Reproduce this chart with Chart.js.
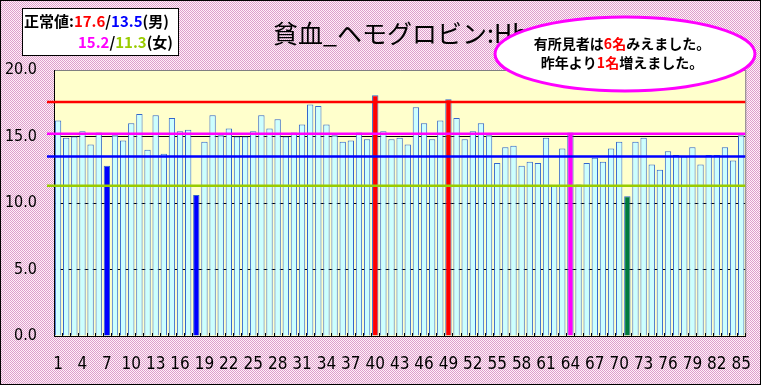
<!DOCTYPE html>
<html>
<head>
<meta charset="utf-8">
<script src="https://cdn.jsdelivr.net/npm/chart.js@4.4.1/dist/chart.umd.min.js"></script>
<style>
html,body{margin:0;padding:0;background:#fff;}
canvas{display:block;}
</style>
</head>
<body>
<canvas id="c" width="761" height="385"></canvas>
<script>
// ---------- DATA ----------
const categories = [
  '1','2','3','4','5','6','7','8','9','10','11','12','13','14','15','16','17','18','19','20',
  '21','22','23','24','25','26','27','28','29','30','31','32','33','34','35','36','37','38','39','40',
  '41','42','43','44','45','46','47','48','49','50','51','52','53','54','55','56','57','58','59','60',
  '61','62','63','64','65','66','67','68','69','70','71','72','73','74','75','76','77','78','79','80',
  '81','82','83','84','85'
];
const hemoglobin = [
  16.2, 14.9, 15.0, 15.4, 14.4, 15.3, 12.8, 15.1, 14.7, 16.0,
  16.7, 14.0, 16.6, 13.7, 16.4, 15.4, 15.5, 10.6, 14.6, 16.6,
  15.1, 15.6, 15.0, 15.0, 15.4, 16.6, 15.6, 16.3, 15.0, 15.3,
  15.9, 17.4, 17.3, 15.9, 15.1, 14.6, 14.7, 15.3, 14.8, 18.1,
  15.4, 14.8, 14.9, 14.4, 17.2, 16.0, 14.8, 16.2, 17.8, 16.4,
  14.8, 15.4, 16.0, 15.1, 13.0, 14.2, 14.3, 12.8, 13.1, 13.0,
  14.9, 11.3, 14.1, 15.3, 11.4, 13.0, 13.4, 13.1, 14.1, 14.6,
  10.5, 14.6, 14.9, 12.9, 12.5, 13.9, 13.6, 13.5, 14.2, 12.9,
  13.6, 13.6, 14.2, 13.2, 15.1
];
// flagged persons (category label) and which limit they broke
const flaggedIds   = ['7', '18', '40', '49', '64', '71'];
const flaggedKinds = ['maleLow', 'maleLow', 'maleHigh', 'maleHigh', 'femaleHigh', 'femaleLow'];
// reference (normal range) values
const refKinds  = ['maleHigh', 'femaleHigh', 'maleLow', 'femaleLow'];
const refValues = [17.6, 15.2, 13.5, 11.3];
const yTickValues = [0, 5, 10, 15, 20];
const xLabelStep = 3;
const titleText = '貧血_ヘモグロビン:Hb';
const noteLine1 = [['有所見者は','black'],['6名','red'],['みえました。','black']];
const noteLine2 = [['昨年より','black'],['1名','red'],['増えました。','black']];
const legendLine1 = [['正常値:','black'],['17.6','maleHigh'],['/','black'],['13.5','maleLow'],['(男)','black']];
const legendLine2 = [['15.2','femaleHigh'],['/','black'],['11.3','femaleLow'],['(女)','black']];

// ---------- STYLES ----------
const kindColor = {
  maleHigh: '#FF0000', maleLow: '#0000FF', femaleHigh: '#FF00FF', femaleLow: '#99CC00',
  black: '#000000', red: '#FF0000'
};
const barFillFlag = { maleHigh:'#FF0000', maleLow:'#0000FF', femaleHigh:'#FF00FF', femaleLow:'#007A3D' };
const barFill = '#CCFFFF';
const barBorder = '#3366CC';
const NUMFONT = "'Liberation Sans Narrow','DejaVu Sans Condensed','Liberation Sans',sans-serif";
const JPFONT = "'Noto Sans CJK JP','Noto Sans',sans-serif";

const fills = categories.map(c => {
  const k = flaggedIds.indexOf(c);
  return k >= 0 ? barFillFlag[flaggedKinds[k]] : barFill;
});

function drawSegments(ctx, segs, x, y, font, align) {
  ctx.font = font;
  let total = 0;
  segs.forEach(s => total += ctx.measureText(s[0]).width);
  let cx = align === 'center' ? x - total / 2 : x;
  ctx.textAlign = 'left';
  ctx.textBaseline = 'middle';
  segs.forEach(s => {
    ctx.fillStyle = kindColor[s[1]];
    ctx.fillText(s[0], cx, y);
    cx += ctx.measureText(s[0]).width;
  });
}

const decor = {
  id: 'decor',
  beforeDraw(chart) {
    const {ctx, chartArea: a, width, height} = chart;
    const pc = document.createElement('canvas');
    pc.width = 2; pc.height = 2;
    const p = pc.getContext('2d');
    p.fillStyle = '#FFF0F8'; p.fillRect(0, 0, 2, 2);
    p.fillStyle = '#DDA0CC'; p.fillRect(0, 0, 1, 1); p.fillRect(1, 1, 1, 1);
    ctx.save();
    ctx.fillStyle = ctx.createPattern(pc, 'repeat');
    ctx.fillRect(0, 0, width, height);
    ctx.fillStyle = '#FFFFCC';
    ctx.fillRect(a.left, a.top, a.right - a.left, a.bottom - a.top);
    ctx.restore();
  },
  afterDatasetsDraw(chart) {
    const {ctx, chartArea: a, scales: {x, y}} = chart;
    ctx.save();
    // right frame
    ctx.strokeStyle = '#808080';
    ctx.lineWidth = 1;
    ctx.beginPath();
    ctx.moveTo(a.right + 0.5, a.top); ctx.lineTo(a.right + 0.5, a.bottom);
    ctx.stroke();
    // small tick marks at category boundaries
    ctx.strokeStyle = '#000';
    ctx.beginPath();
    for (let i = 0; i <= categories.length; i++) {
      const px = Math.round(x.getPixelForValue(i - 0.5)) + 0.5;
      ctx.moveTo(px, a.bottom); ctx.lineTo(px, a.bottom - 3);
    }
    ctx.stroke();
    // reference lines
    ctx.lineWidth = 2.5;
    refValues.forEach((v, i) => {
      const py = y.getPixelForValue(v);
      ctx.strokeStyle = kindColor[refKinds[i]];
      ctx.beginPath();
      ctx.moveTo(a.left - 7, py); ctx.lineTo(a.right, py);
      ctx.stroke();
    });
    ctx.restore();
  },
  afterDraw(chart) {
    const {ctx, width, height} = chart;
    ctx.save();
    // legend box
    ctx.fillStyle = '#FFFFFF';
    ctx.fillRect(22, 8, 157, 48);
    ctx.strokeStyle = '#000';
    ctx.lineWidth = 1;
    ctx.strokeRect(22.5, 8.5, 156, 47);
    drawSegments(ctx, legendLine1, 24, 21, "bold 15px " + JPFONT, 'left');
    drawSegments(ctx, legendLine2, 78, 42, "bold 15px " + JPFONT, 'left');
    // title
    ctx.fillStyle = '#000';
    ctx.font = "25px " + JPFONT;
    ctx.textAlign = 'left';
    ctx.textBaseline = 'middle';
    ctx.fillText(titleText, 273, 33);
    // callout ellipse
    ctx.beginPath();
    ctx.ellipse(625, 54, 130, 37, 0, 0, Math.PI * 2);
    ctx.fillStyle = '#FFFFFF';
    ctx.fill();
    ctx.strokeStyle = '#FF00FF';
    ctx.lineWidth = 3;
    ctx.stroke();
    drawSegments(ctx, noteLine1, 622, 44, "bold 14px " + JPFONT, 'center');
    drawSegments(ctx, noteLine2, 622, 63, "bold 14px " + JPFONT, 'center');
    // outer border
    ctx.strokeStyle = '#000';
    ctx.lineWidth = 1;
    ctx.strokeRect(0.5, 0.5, width - 1, height - 1);
    ctx.restore();
  }
};

new Chart(document.getElementById('c'), {
  type: 'bar',
  data: {
    labels: categories,
    datasets: [{
      data: hemoglobin,
      backgroundColor: fills,
      borderColor: barBorder,
      borderWidth: 1,
      barPercentage: 0.78,
      categoryPercentage: 1.0
    }]
  },
  options: {
    responsive: false,
    animation: false,
    devicePixelRatio: 1,
    layout: { padding: { top: 70, right: 13, left: 0, bottom: 0 } },
    plugins: { legend: { display: false }, tooltip: { enabled: false }, title: { display: false } },
    scales: {
      x: {
        grid: { display: false },
        border: { display: true, color: '#000', width: 1 },
        ticks: {
          autoSkip: false, maxRotation: 0, minRotation: 0, padding: 10,
          color: '#000',
          font: { family: NUMFONT, size: 17 },
          callback: (v, i) => (i % xLabelStep === 0 ? categories[i] : '')
        },
        afterFit: s => { s.height = 49; }
      },
      y: {
        min: yTickValues[0], max: yTickValues[yTickValues.length - 1],
        afterBuildTicks: s => { s.ticks = yTickValues.map(v => ({ value: v })); },
        grid: {
          drawTicks: false,
          color: c => (c.tick && c.tick.value === 20 ? '#808080' : '#000'),
          lineWidth: 1
        },
        border: { display: true, color: '#000', width: 1 },
        ticks: {
          padding: 17, color: '#000',
          font: { family: NUMFONT, size: 16 },
          callback: v => Number(v).toFixed(1)
        },
        afterFit: s => { s.width = 54; }
      }
    }
  },
  plugins: [decor]
});
</script>
</body>
</html>
